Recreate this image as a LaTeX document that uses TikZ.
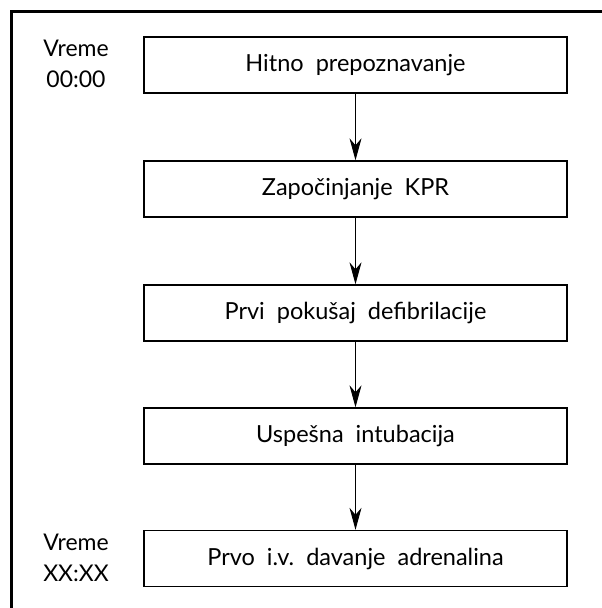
\documentclass[tikz,border=0pt]{standalone}
\usepackage{fontspec}
\setmainfont{Lato}
\usetikzlibrary{arrows.meta}
\begin{document}
\begin{tikzpicture}[x=1pt,y=-1pt,
  stepbox/.style={draw, line width=1.4pt, minimum width=423pt, minimum height=56pt, inner sep=0pt, font=\fontsize{23.5}{28}\selectfont},
  timelbl/.style={align=center, font=\fontsize{23}{31}\selectfont, inner sep=0pt},
  flow/.style={line width=0.9pt, -{Stealth[length=22pt,width=12pt,inset=7pt]}}]
\useasboundingbox (0,0) rectangle (602,608);
\draw[line width=3pt] (11,640) -- (11,11) -- (640,11);
\node[stepbox] (b1) at (355.5,65) {Hitno\ \ prepoznavanje};
\node[stepbox] (b2) at (355.5,189) {Započinjanje\ \ KPR};
\node[stepbox] (b3) at (355.5,313) {Prvi\ \ pokušaj\ \ defibrilacije};
\node[stepbox] (b4) at (355.5,436) {Uspešna\ \ intubacija};
\node[stepbox] (b5) at (355.5,558.5) {Prvo\ \ i.v.\ \ davanje\ \ adrenalina};
\node[timelbl] (t1) at (76,64) {Vreme\\00:00};
\node[timelbl] (t2) at (76,558) {Vreme\\XX:XX};
\draw[flow] (b1) -- (b2);
\draw[flow] (b2) -- (b3);
\draw[flow] (b3) -- (b4);
\draw[flow] (b4) -- (b5);
\end{tikzpicture}
\end{document}
